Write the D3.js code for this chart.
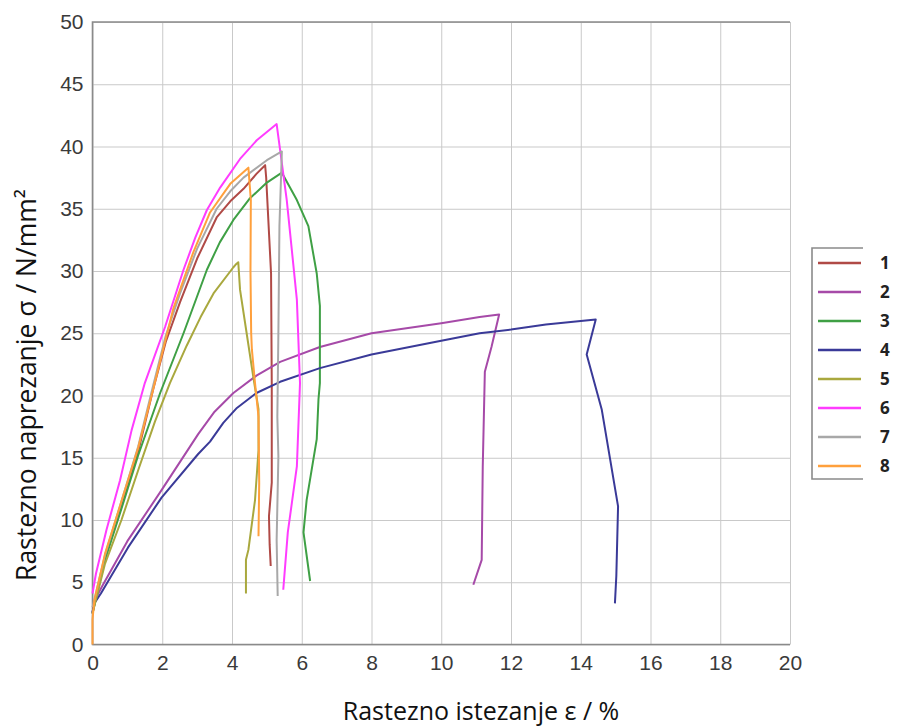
<!DOCTYPE html>
<html>
<head>
<meta charset="utf-8">
<script src="https://cdn.jsdelivr.net/npm/d3@7"></script>
<style>
  body { margin: 0; background: #fff; }
  svg { display: block; }
</style>
</head>
<body>
<div id="chart"></div>
<script>
// strain (%) , stress (N/mm2), one array per specimen
var spec1 = [[0,2.5],[0.36,7],[0.83,11.1],[1.31,15.5],[1.74,20.5],[2.1,24.3],[2.51,27.5],[3.0,31],[3.56,34.3],[3.95,35.6],[4.33,36.6],[4.7,37.8],[4.95,38.5],[4.98,37.5],[5.12,29.8],[5.14,21],[5.14,13],[5.06,10.3],[5.08,8],[5.11,6.3]];
var spec2 = [[0,2.5],[0.05,3.5],[0.3,4.8],[1.0,8.3],[1.98,12.4],[3.03,16.9],[3.5,18.7],[4.04,20.2],[4.7,21.6],[5.38,22.7],[6.52,23.9],[8,25],[10,25.8],[11.1,26.3],[11.66,26.5],[11.44,23.9],[11.25,21.9],[11.19,14.3],[11.16,6.8],[10.92,4.8]];
var spec3 = [[0,2.5],[0.36,6.8],[0.83,10.9],[1.31,15.2],[1.94,20.2],[2.61,25],[3.28,30.1],[3.65,32.3],[4.04,34.1],[4.5,35.8],[5.0,37.1],[5.43,37.9],[5.86,35.7],[6.19,33.6],[6.43,29.8],[6.52,27.2],[6.52,25],[6.52,21],[6.48,19.7],[6.43,16.5],[6.14,11.6],[6.05,9],[6.24,5.1]];
var spec4 = [[0,2.6],[0.05,3.3],[0.24,4.1],[1.02,7.8],[1.98,11.8],[3.03,15.3],[3.37,16.3],[3.75,17.8],[4.14,19.0],[4.7,20.2],[5.38,21.1],[6.52,22.2],[8,23.3],[10,24.4],[11.1,25.0],[12,25.3],[13,25.7],[14.43,26.1],[14.17,23.3],[14.6,18.9],[15.07,11.1],[15.02,5.5],[14.98,3.3]];
var spec5 = [[0,2.5],[0.36,6.5],[0.83,10.0],[1.31,14.0],[1.79,17.9],[2.22,21],[2.7,24],[3.1,26.3],[3.47,28.2],[4.04,30.3],[4.1,30.5],[4.18,30.7],[4.23,28.5],[4.42,25],[4.61,21.5],[4.76,18.9],[4.76,15.6],[4.66,11.6],[4.47,7.6],[4.4,6.8],[4.4,4.1]];
var spec6 = [[0,4.1],[0.1,5.7],[0.4,9.2],[0.79,13.2],[1.12,17.2],[1.5,21],[2.08,25.5],[2.61,30.1],[2.95,32.7],[3.28,34.9],[3.66,36.7],[4.23,39.0],[4.71,40.5],[5.28,41.8],[5.38,39.7],[5.57,35.7],[5.86,27.7],[5.95,21],[5.86,14.3],[5.6,9],[5.47,4.4]];
var spec7 = [[0,3],[0.36,7.2],[0.83,11.5],[1.31,15.9],[1.74,20.8],[2.1,24.8],[2.51,28.2],[3.0,31.8],[3.56,35.0],[3.95,36.4],[4.33,37.5],[5.0,38.9],[5.43,39.6],[5.36,33.6],[5.33,25],[5.3,18.3],[5.33,15.1],[5.28,8.4],[5.31,3.9]];
var spec8 = [[0,0],[0,2],[0.05,3.5],[0.36,7.3],[0.83,11.5],[1.31,15.8],[1.74,20.5],[2.32,27.0],[2.89,31.5],[3.37,34.7],[3.95,37.0],[4.47,38.3],[4.54,35.7],[4.53,30],[4.55,25],[4.57,23.7],[4.66,21],[4.76,18.3],[4.78,13],[4.76,8.7]];

var names = ["1","2","3","4","5","6","7","8"];
var colors = ["#b04a46","#a64aa8","#3fa045","#3a3a98","#a9a83e","#ff3cff","#a8a8a8","#ffa03c"];
var xTicks = [0,2,4,6,8,10,12,14,16,18,20];
var yTicks = [0,5,10,15,20,25,30,35,40,45,50];

var series = [spec1,spec2,spec3,spec4,spec5,spec6,spec7,spec8];

function drawChart(){

  var width = 898;
  var height = 727;
  var pLeft = 92.5, pRight = 790, pTop = 22, pBottom = 644.5;

  var svg = d3.select('#chart')
    .append("svg")
    .attr("width", width)
    .attr("height", height)
    .style("background", "#fff");

  var x = d3.scaleLinear().domain([0,20]).range([pLeft,pRight]);
  var y = d3.scaleLinear().domain([0,50]).range([pBottom,pTop]);

  // grid
  svg.append("g")
    .attr("transform", "translate(0," + pBottom + ")")
    .call(d3.axisBottom(x).tickValues(xTicks).tickSize(-(pBottom-pTop)).tickFormat(""))
    .call(function(g){ g.select(".domain").remove(); })
    .selectAll("line").attr("stroke", "#c9c9c9");

  svg.append("g")
    .attr("transform", "translate(" + pLeft + ",0)")
    .call(d3.axisLeft(y).tickValues(yTicks).tickSize(-(pRight-pLeft)).tickFormat(""))
    .call(function(g){ g.select(".domain").remove(); })
    .selectAll("line").attr("stroke", "#c9c9c9");

  // frame: top, left, bottom
  svg.append("path")
    .attr("d", "M" + pRight + "," + pTop + "H" + pLeft + "V" + pBottom + "H" + pRight)
    .attr("fill", "none")
    .attr("stroke", "#8a8a8a")
    .attr("stroke-width", 1.6);

  // tick labels
  var xAx = svg.append("g")
    .attr("transform", "translate(0," + pBottom + ")")
    .call(d3.axisBottom(x).tickValues(xTicks).tickSize(0).tickPadding(11));
  xAx.select(".domain").remove();
  xAx.selectAll("text")
    .style("font-family", "'Liberation Sans', Arial, sans-serif")
    .style("font-size", "21px")
    .attr("fill", "#3a3a3a");

  var yAx = svg.append("g")
    .attr("transform", "translate(" + pLeft + ",0)")
    .call(d3.axisLeft(y).tickValues(yTicks).tickSize(0).tickPadding(9));
  yAx.select(".domain").remove();
  yAx.selectAll("text")
    .style("font-family", "'Liberation Sans', Arial, sans-serif")
    .style("font-size", "21px")
    .attr("fill", "#3a3a3a");

  // curves (straight segments, keeps the sharp breaks at the peaks)
  var line = d3.line()
    .x(function(d){ return x(d[0]); })
    .y(function(d){ return y(d[1]); });

  svg.append("g")
    .selectAll("path")
    .data(series)
    .enter().append("path")
      .attr("d", line)
      .attr("fill", "none")
      .attr("stroke", function(d,i){ return colors[i]; })
      .attr("stroke-width", 2)
      .attr("stroke-linejoin", "round");

  // axis titles
  svg.append("text")
    .attr("x", 481)
    .attr("y", 720)
    .attr("text-anchor", "middle")
    .style("font-family", "'Open Sans', sans-serif")
    .style("font-size", "25px")
    .attr("fill", "#111")
    .text("Rastezno istezanje ε / %");

  svg.append("text")
    .attr("transform", "translate(36,385) rotate(-90)")
    .attr("text-anchor", "middle")
    .style("font-family", "'Open Sans', sans-serif")
    .style("font-size", "26.5px")
    .attr("fill", "#111")
    .text("Rastezno naprezanje σ / N/mm²");

  // legend
  var lgTop = 248, lgBottom = 479, lgLeft = 812, lgRight = 863;
  svg.append("path")
    .attr("d", "M" + lgRight + "," + lgTop + "H" + lgLeft + "V" + lgBottom + "H" + lgRight)
    .attr("fill", "none")
    .attr("stroke", "#8a8a8a")
    .attr("stroke-width", 1.6);

  var ly = d3.scalePoint().domain(names).range([263, 466]);

  var item = svg.append("g")
    .selectAll("g")
    .data(names)
    .enter().append("g")
      .attr("transform", function(d){ return "translate(0," + ly(d) + ")"; });

  item.append("line")
    .attr("x1", 818).attr("x2", 861)
    .attr("stroke", function(d,i){ return colors[i]; })
    .attr("stroke-width", 2.5);

  item.append("text")
    .attr("x", 880)
    .attr("dy", "0.36em")
    .style("font-family", "'Open Sans', sans-serif")
    .style("font-size", "17px")
    .style("font-weight", "bold")
    .attr("fill", "#222")
    .text(function(d){ return d; });
}

drawChart();
</script>
</body>
</html>
